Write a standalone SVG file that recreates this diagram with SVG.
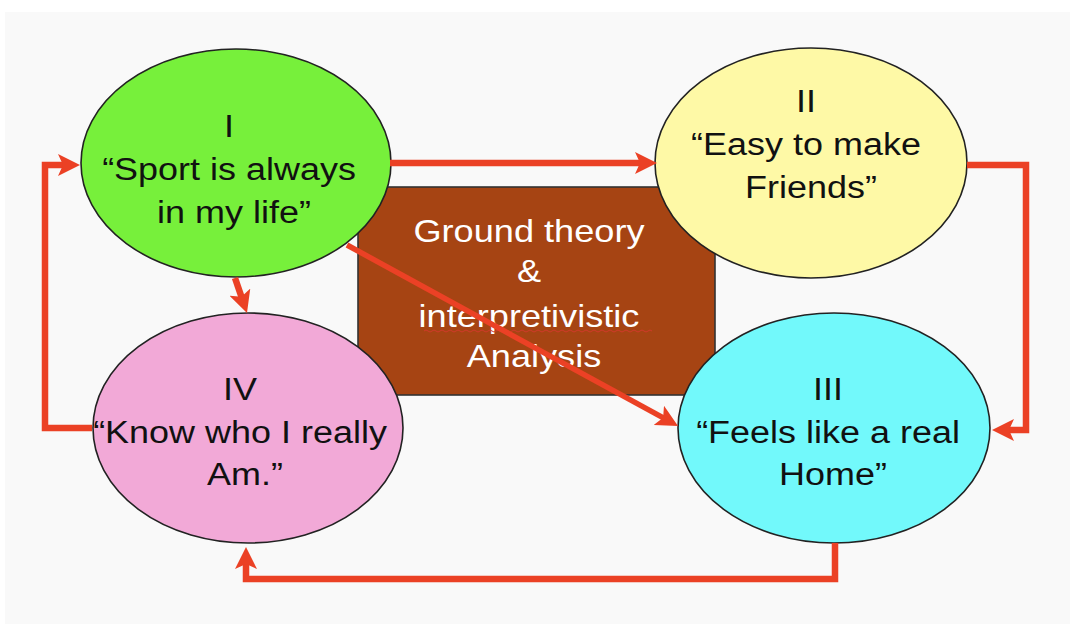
<svg xmlns="http://www.w3.org/2000/svg" width="1070" height="633" viewBox="0 0 1070 633">
  <defs>
    <marker id="arrow" viewBox="0 0 22 22" markerUnits="userSpaceOnUse" markerWidth="22" markerHeight="22" refX="10" refY="11" orient="auto">
      <path d="M0,0 L22,11 L0,22 L5,11 Z" fill="#eb4125"/>
    </marker>
  </defs>
  <style>
    .node { stroke: #222; stroke-width: 1.6; }
    .lbl { font-family: "Liberation Sans", Arial, sans-serif; font-size: 31px; fill: #111; text-anchor: middle; }
    .wlbl { font-family: "Liberation Sans", Arial, sans-serif; font-size: 32px; fill: #ffffff; text-anchor: middle; }
    .conn { fill: none; stroke: #eb4125; stroke-width: 6.5; stroke-linejoin: miter; marker-end: url(#arrow); }
  </style>
  <rect x="0" y="0" width="1070" height="633" fill="#ffffff"/>
  <rect x="5" y="12" width="1065" height="612" fill="#f9f9f9"/>

  <g id="center-box">
    <rect x="358" y="187" width="357" height="208" fill="#a64413" stroke="#333" stroke-width="1.6"/>
    <text class="wlbl" transform="translate(534 0) scale(1.13 1)">
      <tspan x="0" y="242">Ground theory</tspan>
      <tspan x="0" y="282">&amp;</tspan>
      <tspan x="0" y="327">interpretivistic</tspan>
      <tspan x="0" y="367">Analysis</tspan>
    </text>
    <path d="M424,331 q2,-2 4,0 t4,0 t4,0 t4,0 t4,0 t4,0 t4,0 t4,0 t4,0 t4,0 t4,0 t4,0 t4,0 t4,0 t4,0 t4,0 t4,0 t4,0 t4,0 t4,0 t4,0 t4,0 t4,0 t4,0 t4,0 t4,0 t4,0 t4,0 t4,0 t4,0 t4,0 t4,0 t4,0 t4,0 t4,0 t4,0 t4,0 t4,0 t4,0 t4,0 t4,0 t4,0 t4,0 t4,0 t4,0 t4,0 t4,0 t4,0 t4,0 t4,0 t4,0 t4,0 t4,0 t4,0 t4,0 t4,0 t4,0" fill="none" stroke="#d03a2a" stroke-width="1"/>
  </g>

  <g id="node-I">
    <ellipse class="node" cx="236" cy="163" rx="155" ry="114" fill="#77f03b"/>
    <text class="lbl" transform="translate(234 0) scale(1.16 1)">
      <tspan x="0" y="137">I</tspan>
      <tspan x="0" y="180">“Sport is always</tspan>
      <tspan x="0" y="223">in my life”</tspan>
    </text>
  </g>

  <g id="node-II">
    <ellipse class="node" cx="811" cy="163" rx="156" ry="115" fill="#fef9a6"/>
    <text class="lbl" transform="translate(811 0) scale(1.16 1)">
      <tspan x="0" y="112">II</tspan>
      <tspan x="0" y="155">“Easy to make</tspan>
      <tspan x="0" y="198">Friends”</tspan>
    </text>
  </g>

  <g id="node-III">
    <ellipse class="node" cx="834" cy="428" rx="156" ry="115" fill="#72f9fb"/>
    <text class="lbl" transform="translate(833 0) scale(1.16 1)">
      <tspan x="0" y="400">III</tspan>
      <tspan x="0" y="443">“Feels like a real</tspan>
      <tspan x="0" y="485">Home”</tspan>
    </text>
  </g>

  <g id="node-IV">
    <ellipse class="node" cx="248" cy="428" rx="155" ry="115" fill="#f2a9d7"/>
    <text class="lbl" transform="translate(245 0) scale(1.16 1)">
      <tspan x="0" y="400">IV</tspan>
      <tspan x="0" y="443">“Know who I really</tspan>
      <tspan x="0" y="485">Am.”</tspan>
    </text>
  </g>

  <g id="connectors">
    <path class="conn" d="M390,163 H645"/>
    <path class="conn" d="M967,165 H1026 V430 H1004"/>
    <path class="conn" d="M835,543 V579 H246 V559"/>
    <path class="conn" d="M92,428 H45 V165 H68"/>
    <path class="conn" d="M235,278 L243.1,301.6"/>
    <path class="conn" style="stroke-width:5.5" d="M347,245 L667.5,420.2"/>
  </g>
</svg>
